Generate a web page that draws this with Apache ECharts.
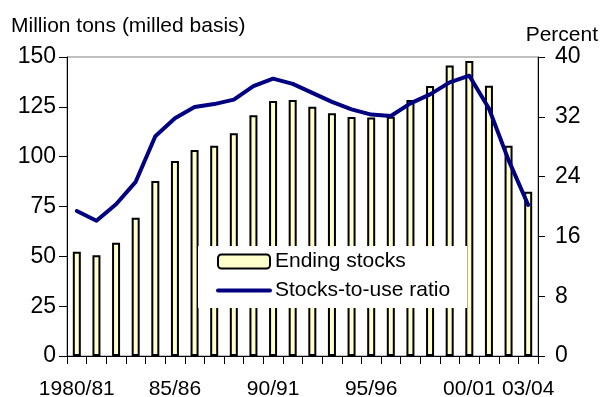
<!DOCTYPE html>
<html>
<head>
<meta charset="utf-8">
<script src="https://cdn.jsdelivr.net/npm/echarts@6/dist/echarts.min.js"></script>
<style>
  html, body { margin: 0; padding: 0; background: #fff; }
  #chart { width: 602px; height: 397px; }
</style>
</head>
<body>
<div id="chart"></div>
<script>
// Marketing years, 1980/81 through 2003/04
const years = [
  '1980/81', '81/82', '82/83', '83/84', '84/85', '85/86', '86/87', '87/88',
  '88/89', '89/90', '90/91', '91/92', '92/93', '93/94', '94/95', '95/96',
  '96/97', '97/98', '98/99', '99/00', '00/01', '01/02', '02/03', '03/04'
];
// Only these years carry a label under the axis
const labelledYears = ['1980/81', '85/86', '90/91', '95/96', '00/01', '03/04'];

// Ending stocks, million tons (milled basis)
const endingStocks = [
  52.3, 50.5, 56.8, 69.4, 87.8, 97.8, 103.4, 105.5,
  111.7, 120.8, 127.9, 128.4, 125.1, 121.8, 119.9, 119.6,
  120.0, 128.4, 135.5, 145.7, 148.0, 135.6, 105.5, 82.4
];
// Stocks-to-use ratio, percent
const stocksToUse = [
  19.4, 18.1, 20.3, 23.3, 29.4, 31.8, 33.3, 33.7,
  34.3, 36.1, 37.1, 36.4, 35.2, 34.0, 33.0, 32.3,
  32.1, 33.8, 35.0, 36.6, 37.5, 33.1, 26.2, 20.2
];

// Left and right axis ticks
const stockTicks = { min: 0, max: 150, step: 25 };
const ratioTicks = { min: 0, max: 40, step: 8 };

const font = 'Arial, "Liberation Sans", sans-serif';
const textBase = { color: '#000', fontFamily: font, fontSize: 21 };
const valueLabel = { color: '#000', fontFamily: font, fontSize: 23 };

const chart = echarts.init(document.getElementById('chart'), null, { renderer: 'canvas' });

chart.setOption({
  animation: false,
  backgroundColor: '#fff',
  title: [
    {
      text: 'Million tons (milled basis)',
      left: 11, top: 16, padding: 0,
      textStyle: Object.assign({ fontWeight: 'normal' }, textBase)
    },
    {
      text: 'Percent',
      right: 4, top: 25, padding: 0,
      textStyle: Object.assign({ fontWeight: 'normal' }, textBase)
    }
  ],
  grid: {
    left: 67, right: 64, top: 57, bottom: 41,
    outerBoundsMode: 'none',
    containLabel: false,
    show: true, borderColor: '#808080', borderWidth: 1, backgroundColor: 'transparent'
  },
  legend: {
    orient: 'vertical',
    left: 198, top: 246,
    padding: [5, 17, 7, 18],
    itemGap: 8,
    itemWidth: 52, itemHeight: 14,
    backgroundColor: '#fff',
    textStyle: textBase,
    data: [
      { name: 'Ending stocks' },
      { name: 'Stocks-to-use ratio', itemStyle: { opacity: 0 }, lineStyle: { width: 4, color: '#000080' } }
    ],
    z: 10
  },
  xAxis: {
    type: 'category',
    data: years,
    boundaryGap: true,
    axisLine: { lineStyle: { color: '#000', width: 1 } },
    axisTick: { show: true, interval: 0, length: 8, lineStyle: { color: '#000' } },
    axisLabel: Object.assign({
      interval: (idx, val) => labelledYears.includes(val),
      margin: 23
    }, textBase),
    splitLine: { show: false }
  },
  yAxis: [
    {
      type: 'value',
      min: stockTicks.min, max: stockTicks.max, interval: stockTicks.step,
      axisLine: { show: true, lineStyle: { color: '#000', width: 1 } },
      axisTick: { show: true, length: 8, lineStyle: { color: '#000' } },
      axisLabel: Object.assign({ margin: 11 }, valueLabel),
      splitLine: { show: false }
    },
    {
      type: 'value',
      position: 'right',
      min: ratioTicks.min, max: ratioTicks.max, interval: ratioTicks.step,
      axisLine: { show: true, lineStyle: { color: '#000', width: 1 } },
      axisTick: { show: true, length: 7, lineStyle: { color: '#000' } },
      axisLabel: Object.assign({ margin: 17 }, valueLabel),
      splitLine: { show: false }
    }
  ],
  series: [
    {
      name: 'Ending stocks',
      type: 'bar',
      yAxisIndex: 0,
      data: endingStocks,
      barWidth: 8,
      itemStyle: { color: '#FFFFCC', borderColor: '#000', borderWidth: 2 }
    },
    {
      name: 'Stocks-to-use ratio',
      type: 'line',
      yAxisIndex: 1,
      data: stocksToUse,
      symbol: 'none',
      lineStyle: { color: '#000080', width: 4, join: 'round', cap: 'round' },
      itemStyle: { color: '#000080' },
      z: 3
    }
  ]
});
</script>
</body>
</html>
